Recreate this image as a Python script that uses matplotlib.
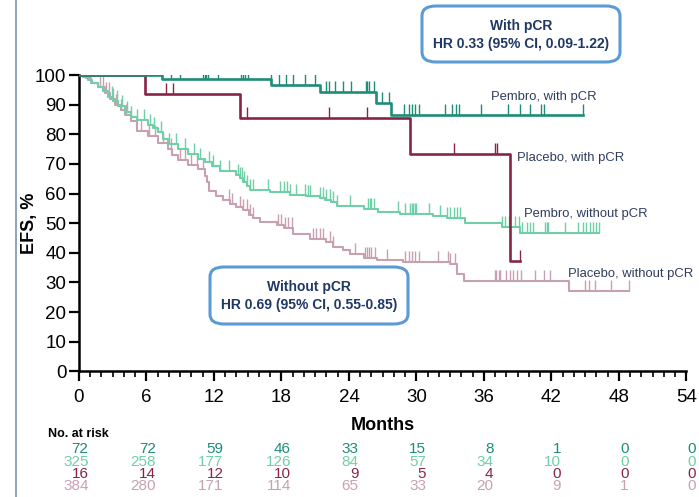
import numpy as np
import matplotlib.pyplot as plt
from matplotlib import font_manager
from matplotlib.path import Path
from matplotlib.patches import FancyBboxPatch
from matplotlib.lines import Line2D
import matplotlib.transforms as mtransforms

# Pembro, with pCR (step times in months, EFS %)
pw_t = [0, 7.4, 17.1, 21.4, 26.4, 27.7]
pw_s = [100, 98.6, 96.6, 94.4, 90.4, 86.6]
pw_end = 44.8
pw_cens = [4.9, 6.7, 7.1, 7.3, 8.2, 9.0, 11.0, 11.2, 11.3, 11.5, 12.4, 14.4, 14.6,
           14.8, 15.0, 17.05, 17.8, 18.4, 19.0, 20.1, 21.0, 22.0, 22.2, 22.8, 23.5,
           24.2, 25.5, 25.6, 25.8, 26.2, 26.9, 27.6, 28.9, 29.3, 29.6, 29.9, 30.2,
           32.5, 33.2, 33.5, 33.8, 35.7, 38.1, 39.2, 40.1, 41.1, 41.3, 44.8]

# Placebo, with pCR
plw_t = [0, 5.9, 14.3, 29.4, 38.3]
plw_s = [100, 93.5, 85.6, 73.2, 37.2]
plw_end = 39.2
plw_cens = [7.7, 8.4, 14.9, 22.2, 25.6, 33.3, 37.0, 37.2, 39.2]

# Pembro, without pCR
pwo_t = [0, 0.4, 0.8, 1.2, 1.7, 2.1, 2.6, 3.0, 3.5, 4.1, 4.6, 5.2, 6.1, 6.6, 7.0,
         7.5, 7.9, 8.8, 9.7, 10.6, 11.2, 11.8, 12.5, 14.0, 14.3, 14.6, 14.9, 15.2,
         17.0, 18.8, 20.2, 21.4, 21.9, 22.4, 22.9, 25.3, 26.6, 28.5, 31.5, 32.7,
         34.3, 37.6, 39.2]
pwo_s = [100, 99.4, 98.2, 97.2, 96.0, 94.5, 92.6, 91.2, 89.7, 87.5, 86.0, 84.7,
         83.0, 82.0, 80.7, 78.5, 76.8, 75.1, 73.4, 71.7, 70.5, 69.2, 67.6, 66.2,
         65.2, 64.0, 62.5, 61.1, 60.6, 59.5, 59.0, 58.4, 57.8, 57.0, 55.8, 54.9,
         53.8, 53.2, 52.4, 51.6, 50.2, 48.8, 46.6]
pwo_end = 46.2
pwo_cens = [2.9, 3.4, 3.8, 4.3, 4.6, 5.2, 5.8, 6.3, 6.7, 7.3, 8.0, 8.6, 9.4, 10.2,
            10.8, 11.6, 11.9, 12.5, 13.3, 14.1, 14.3, 14.5, 14.7, 14.9, 15.2, 15.5,
            16.8, 17.9, 18.2, 18.5, 18.8, 19.3, 20.1, 20.4, 20.5, 21.4, 21.7, 22.0,
            22.3, 22.6, 22.9, 24.1, 25.7, 25.9, 26.0, 26.2, 28.4, 29.0, 29.4, 29.6,
            29.7, 29.9, 30.0, 31.1, 32.1, 32.7, 33.0, 33.3, 33.6, 33.9, 37.6, 37.9,
            38.2, 38.8, 39.1, 39.4, 39.8, 40.1, 40.4, 41.4, 41.6, 41.7, 43.2, 44.4,
            44.8, 45.1, 45.4, 45.7, 46.0, 46.2]

# Placebo, without pCR
plwo_t = [0, 0.6, 1.1, 1.7, 2.3, 2.8, 3.2, 3.7, 4.1, 4.6, 5.2, 6.1, 7.0, 7.9, 8.3,
          8.8, 9.7, 10.6, 11.2, 11.4, 11.6, 12.2, 12.8, 13.4, 14.0, 14.6, 15.1,
          15.5, 16.1, 17.6, 18.2, 19.0, 20.5, 22.0, 22.6, 23.5, 24.1, 25.3, 26.5,
          28.8, 33.0, 33.6, 34.2, 43.6]
plwo_s = [100, 99.0, 97.3, 95.8, 93.9, 92.0, 90.0, 88.3, 86.6, 84.4, 81.0, 79.3,
          77.1, 75.1, 73.0, 71.2, 69.5, 68.2, 66.0, 64.0, 61.0, 59.0, 57.8, 56.6,
          55.5, 54.4, 52.8, 51.6, 50.4, 49.3, 48.2, 46.5, 44.8, 43.7, 42.0, 40.9,
          39.6, 38.4, 37.5, 37.0, 36.1, 33.0, 30.6, 27.2]
plwo_end = 48.9
plwo_cens = [1.9, 2.1, 2.4, 2.7, 3.0, 3.3, 3.7, 4.2, 5.5, 6.2, 6.8, 7.5, 8.2, 9.0,
             9.4, 10.0, 10.5, 11.0, 13.3, 13.6, 14.3, 14.6, 14.9, 15.2, 15.5, 17.7,
             18.0, 18.3, 18.6, 18.9, 20.8, 21.1, 21.4, 21.7, 22.3, 22.6, 24.5, 25.4,
             25.6, 25.8, 26.0, 26.3, 27.4, 29.0, 29.3, 29.6, 29.9, 30.2, 31.9, 32.8,
             33.0, 33.4, 37.0, 37.1, 37.3, 37.4, 38.0, 38.3, 38.6, 38.9, 39.3, 40.5,
             41.3, 41.9, 45.0, 45.3, 45.9, 47.3, 48.9]

risk_months = [0, 6, 12, 18, 24, 30, 36, 42, 48, 54]
risk_pw = [72, 72, 59, 46, 33, 15, 8, 1, 0, 0]
risk_pwo = [325, 258, 177, 126, 84, 57, 34, 10, 0, 0]
risk_plw = [16, 14, 12, 10, 9, 5, 4, 0, 0, 0]
risk_plwo = [384, 280, 171, 114, 65, 33, 20, 9, 1, 0]

c_pw = '#1d8c78'
c_pwo = '#6fcfa7'
c_plw = '#8a2445'
c_plwo = '#c7a1b2'
navy = '#1f3864'
label_col = '#2f3d5f'

installed = {f.name for f in font_manager.fontManager.ttflist}
narrow = 'Liberation Sans Narrow' if 'Liberation Sans Narrow' in installed else 'Liberation Sans'
plt.rcParams['font.family'] = ['Liberation Sans', 'DejaVu Sans']

fig = plt.figure(figsize=(6.99, 4.97), dpi=100)
ax = fig.add_axes([0.113, 0.253, 0.869, 0.596])

# censor mark: a short stroke rising from the curve
tick_up = Path([(0, 0), (0, 1)], [Path.MOVETO, Path.LINETO])


def km(t, s, end, cens, color, lw):
    tt = list(t) + [end]
    ss = list(s) + [s[-1]]
    ax.step(tt, ss, where='post', color=color, lw=lw, zorder=3)
    cs = [s[np.searchsorted(t, c, side='right') - 1] for c in cens]
    ax.plot(cens, cs, ls='none', marker=tick_up, ms=16, mew=1.0,
            color=color, zorder=3)


km(plwo_t, plwo_s, plwo_end, plwo_cens, c_plwo, 1.5)
km(pwo_t, pwo_s, pwo_end, pwo_cens, c_pwo, 1.5)
km(plw_t, plw_s, plw_end, plw_cens, c_plw, 1.9)
km(pw_t, pw_s, pw_end, pw_cens, c_pw, 1.9)

ax.set_xlim(0, 54)
ax.set_ylim(0, 100)
ax.spines['top'].set_visible(False)
ax.spines['right'].set_visible(False)
for sp in ('left', 'bottom'):
    ax.spines[sp].set_linewidth(1.8)
ax.set_xticks(np.arange(0, 55, 6))
ax.set_xticks(np.arange(0, 55, 1), minor=True)
ax.set_yticks(np.arange(0, 101, 10))
ax.tick_params(which='major', length=7, width=1.6, labelsize=13.5, pad=6)
ax.tick_params(which='minor', length=4, width=1.2)
ax.tick_params(axis='y', pad=2)
for lab in ax.get_xticklabels() + ax.get_yticklabels():
    lab.set_fontfamily(narrow)

ax.set_xlabel('Months', fontsize=13, fontweight='bold', fontfamily=narrow, labelpad=8)
ax.set_ylabel('EFS, %', fontsize=13, fontweight='bold')
ax.yaxis.set_label_coords(-0.068, 0.5)

# curve labels
lab_kw = dict(fontsize=9.4, color=label_col, va='center', ha='left')
ax.text(36.6, 92.5, 'Pembro, with pCR', **lab_kw)
ax.text(38.9, 72.0, 'Placebo, with pCR', **lab_kw)
ax.text(39.6, 53.0, 'Pembro, without pCR', **lab_kw)
ax.text(43.5, 33.0, 'Placebo, without pCR', **lab_kw)

# hazard-ratio boxes (figure pixel coordinates)
W, H = 699, 497


def hr_box(x0, y0, x1, y1, title, hr):
    box = FancyBboxPatch((x0 / W, 1 - y1 / H), (x1 - x0) / W, (y1 - y0) / H,
                         boxstyle='round,pad=0,rounding_size=0.02',
                         transform=fig.transFigure, fc='white', ec='#5b9bd5',
                         lw=2.2, zorder=5)
    fig.add_artist(box)
    xc = (x0 + x1) / 2 / W
    fig.text(xc, 1 - (y0 + 20) / H, title, ha='center', va='center',
             fontsize=10, fontweight='bold', color=navy, zorder=6)
    fig.text(xc, 1 - (y0 + 38) / H, hr, ha='center', va='center',
             fontsize=10, fontweight='bold', color=navy, zorder=6)


hr_box(422, 6, 620, 62, 'With pCR', 'HR 0.33 (95% CI, 0.09-1.22)')
hr_box(210, 267, 408, 324, 'Without pCR', 'HR 0.69 (95% CI, 0.55-0.85)')

# number at risk table
fig.text(48 / W, 1 - 434 / H, 'No. at risk', fontsize=9, fontweight='bold',
         ha='left', va='center')
trans = mtransforms.blended_transform_factory(ax.transData, fig.transFigure)
rows = [(risk_pw, c_pw), (risk_pwo, c_pwo), (risk_plw, c_plw), (risk_plwo, c_plwo)]
for i, (vals, col) in enumerate(rows):
    yy = 1 - (449 + 12.5 * i) / H
    for m, v in zip(risk_months, vals):
        ax.text(m + 0.85, yy, str(v), transform=trans, ha='right', va='center',
                fontsize=11, color=col, fontfamily=narrow, clip_on=False)

# slide border on the left
fig.add_artist(Line2D([16 / W, 16 / W], [0, 1], transform=fig.transFigure,
                      color='#7d93ab', lw=1.2))

fig.savefig('out.png', dpi=100)
